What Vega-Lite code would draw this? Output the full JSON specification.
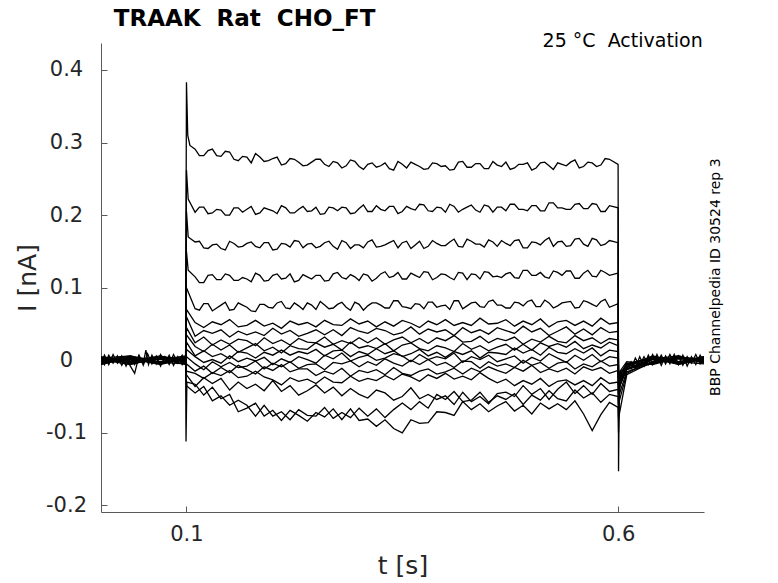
{
  "$schema": "https://vega.github.io/schema/vega-lite/v6.json",
  "description": "TRAAK Rat CHO_FT activation current traces",
  "width": 603,
  "height": 469,
  "autosize": "none",
  "padding": {"left": 101, "top": 43, "right": 74, "bottom": 71},
  "background": "white",
  "config": {"view": {"stroke": null}, "font": "DejaVu Sans"},
  "layer": [
    {
      "data": {"values": [
        {"k":1,"t":0.001,"v":0.002},{"k":1,"t":0.035,"v":-0.004},{"k":1,"t":0.07,"v":0.005},{"k":1,"t":0.099,"v":0.001},
        {"k":1,"t":0.1,"v":0.383},{"k":1,"t":0.1015,"v":0.31},{"k":1,"t":0.104,"v":0.296},
        {"k":1,"t":0.11,"v":0.291},{"k":1,"t":0.12,"v":0.282},{"k":1,"t":0.13,"v":0.291},{"k":1,"t":0.14,"v":0.281},{"k":1,"t":0.15,"v":0.287},{"k":1,"t":0.16,"v":0.275},{"k":1,"t":0.17,"v":0.28},{"k":1,"t":0.18,"v":0.285},{"k":1,"t":0.19,"v":0.274},{"k":1,"t":0.2,"v":0.278},
        {"k":1,"t":0.21,"v":0.269},{"k":1,"t":0.22,"v":0.278},{"k":1,"t":0.23,"v":0.273},{"k":1,"t":0.24,"v":0.269},{"k":1,"t":0.25,"v":0.277},{"k":1,"t":0.26,"v":0.27},{"k":1,"t":0.27,"v":0.274},{"k":1,"t":0.28,"v":0.265},{"k":1,"t":0.29,"v":0.276},{"k":1,"t":0.3,"v":0.267},
        {"k":1,"t":0.31,"v":0.27},{"k":1,"t":0.32,"v":0.266},{"k":1,"t":0.33,"v":0.272},{"k":1,"t":0.34,"v":0.262},{"k":1,"t":0.35,"v":0.27},{"k":1,"t":0.36,"v":0.273},{"k":1,"t":0.37,"v":0.267},{"k":1,"t":0.38,"v":0.264},{"k":1,"t":0.39,"v":0.271},{"k":1,"t":0.4,"v":0.268},
        {"k":1,"t":0.41,"v":0.263},{"k":1,"t":0.42,"v":0.274},{"k":1,"t":0.43,"v":0.266},{"k":1,"t":0.44,"v":0.271},{"k":1,"t":0.45,"v":0.264},{"k":1,"t":0.46,"v":0.269},{"k":1,"t":0.47,"v":0.273},{"k":1,"t":0.48,"v":0.265},{"k":1,"t":0.49,"v":0.27},{"k":1,"t":0.5,"v":0.262},
        {"k":1,"t":0.51,"v":0.272},{"k":1,"t":0.52,"v":0.268},{"k":1,"t":0.53,"v":0.272},{"k":1,"t":0.54,"v":0.268},{"k":1,"t":0.55,"v":0.276},{"k":1,"t":0.56,"v":0.267},{"k":1,"t":0.57,"v":0.272},{"k":1,"t":0.58,"v":0.269},{"k":1,"t":0.59,"v":0.277},
        {"k":1,"t":0.115,"v":0.282},{"k":1,"t":0.125,"v":0.289},{"k":1,"t":0.135,"v":0.282},{"k":1,"t":0.145,"v":0.288},{"k":1,"t":0.155,"v":0.277},{"k":1,"t":0.165,"v":0.281},{"k":1,"t":0.175,"v":0.272},{"k":1,"t":0.185,"v":0.28},{"k":1,"t":0.195,"v":0.275},{"k":1,"t":0.205,"v":0.28},
        {"k":1,"t":0.215,"v":0.271},{"k":1,"t":0.225,"v":0.277},{"k":1,"t":0.235,"v":0.268},{"k":1,"t":0.245,"v":0.273},{"k":1,"t":0.255,"v":0.277},{"k":1,"t":0.265,"v":0.267},{"k":1,"t":0.275,"v":0.272},{"k":1,"t":0.285,"v":0.268},{"k":1,"t":0.295,"v":0.274},{"k":1,"t":0.305,"v":0.263},
        {"k":1,"t":0.315,"v":0.272},{"k":1,"t":0.325,"v":0.268},{"k":1,"t":0.335,"v":0.264},{"k":1,"t":0.345,"v":0.274},{"k":1,"t":0.355,"v":0.265},{"k":1,"t":0.365,"v":0.27},{"k":1,"t":0.375,"v":0.263},{"k":1,"t":0.385,"v":0.272},{"k":1,"t":0.395,"v":0.267},{"k":1,"t":0.405,"v":0.262},
        {"k":1,"t":0.415,"v":0.273},{"k":1,"t":0.425,"v":0.266},{"k":1,"t":0.435,"v":0.271},{"k":1,"t":0.445,"v":0.264},{"k":1,"t":0.455,"v":0.274},{"k":1,"t":0.465,"v":0.267},{"k":1,"t":0.475,"v":0.263},{"k":1,"t":0.485,"v":0.27},{"k":1,"t":0.495,"v":0.272},{"k":1,"t":0.505,"v":0.265},
        {"k":1,"t":0.515,"v":0.273},{"k":1,"t":0.525,"v":0.263},{"k":1,"t":0.535,"v":0.27},{"k":1,"t":0.545,"v":0.273},{"k":1,"t":0.555,"v":0.265},{"k":1,"t":0.565,"v":0.273},{"k":1,"t":0.575,"v":0.267},{"k":1,"t":0.585,"v":0.278},
        {"k":1,"t":0.6,"v":0.27},{"k":1,"t":0.6005,"v":-0.153},{"k":1,"t":0.6015,"v":-0.02},{"k":1,"t":0.61,"v":-0.006},{"k":1,"t":0.64,"v":0.004},{"k":1,"t":0.67,"v":-0.004},{"k":1,"t":0.6995,"v":0.003},

        {"k":2,"t":0.001,"v":-0.003},{"k":2,"t":0.035,"v":0.004},{"k":2,"t":0.07,"v":-0.005},{"k":2,"t":0.099,"v":0.002},
        {"k":2,"t":0.1,"v":0.262},{"k":2,"t":0.102,"v":0.222},
        {"k":2,"t":0.11,"v":0.204},{"k":2,"t":0.12,"v":0.211},{"k":2,"t":0.13,"v":0.203},{"k":2,"t":0.14,"v":0.207},{"k":2,"t":0.15,"v":0.2},{"k":2,"t":0.16,"v":0.21},{"k":2,"t":0.17,"v":0.208},{"k":2,"t":0.18,"v":0.201},{"k":2,"t":0.19,"v":0.21},{"k":2,"t":0.2,"v":0.206},
        {"k":2,"t":0.21,"v":0.213},{"k":2,"t":0.22,"v":0.203},{"k":2,"t":0.23,"v":0.208},{"k":2,"t":0.24,"v":0.205},{"k":2,"t":0.25,"v":0.211},{"k":2,"t":0.26,"v":0.202},{"k":2,"t":0.27,"v":0.21},{"k":2,"t":0.28,"v":0.211},{"k":2,"t":0.29,"v":0.202},{"k":2,"t":0.3,"v":0.209},
        {"k":2,"t":0.31,"v":0.205},{"k":2,"t":0.32,"v":0.213},{"k":2,"t":0.33,"v":0.206},{"k":2,"t":0.34,"v":0.212},{"k":2,"t":0.35,"v":0.205},{"k":2,"t":0.36,"v":0.209},{"k":2,"t":0.37,"v":0.215},{"k":2,"t":0.38,"v":0.206},{"k":2,"t":0.39,"v":0.211},{"k":2,"t":0.4,"v":0.204},
        {"k":2,"t":0.41,"v":0.212},{"k":2,"t":0.42,"v":0.208},{"k":2,"t":0.43,"v":0.214},{"k":2,"t":0.44,"v":0.204},{"k":2,"t":0.45,"v":0.212},{"k":2,"t":0.46,"v":0.211},{"k":2,"t":0.47,"v":0.206},{"k":2,"t":0.48,"v":0.215},{"k":2,"t":0.49,"v":0.208},{"k":2,"t":0.5,"v":0.213},
        {"k":2,"t":0.51,"v":0.206},{"k":2,"t":0.52,"v":0.217},{"k":2,"t":0.53,"v":0.21},{"k":2,"t":0.54,"v":0.208},{"k":2,"t":0.55,"v":0.215},{"k":2,"t":0.56,"v":0.209},{"k":2,"t":0.57,"v":0.216},{"k":2,"t":0.58,"v":0.205},{"k":2,"t":0.59,"v":0.213},
        {"k":2,"t":0.115,"v":0.211},{"k":2,"t":0.125,"v":0.202},{"k":2,"t":0.135,"v":0.208},{"k":2,"t":0.145,"v":0.2},{"k":2,"t":0.155,"v":0.21},{"k":2,"t":0.165,"v":0.204},{"k":2,"t":0.175,"v":0.212},{"k":2,"t":0.185,"v":0.203},{"k":2,"t":0.195,"v":0.208},{"k":2,"t":0.205,"v":0.202},
        {"k":2,"t":0.215,"v":0.21},{"k":2,"t":0.225,"v":0.203},{"k":2,"t":0.235,"v":0.212},{"k":2,"t":0.245,"v":0.206},{"k":2,"t":0.255,"v":0.201},{"k":2,"t":0.265,"v":0.211},{"k":2,"t":0.275,"v":0.206},{"k":2,"t":0.285,"v":0.21},{"k":2,"t":0.295,"v":0.203},{"k":2,"t":0.305,"v":0.214},
        {"k":2,"t":0.315,"v":0.205},{"k":2,"t":0.325,"v":0.208},{"k":2,"t":0.335,"v":0.212},{"k":2,"t":0.345,"v":0.202},{"k":2,"t":0.355,"v":0.212},{"k":2,"t":0.365,"v":0.207},{"k":2,"t":0.375,"v":0.214},{"k":2,"t":0.385,"v":0.205},{"k":2,"t":0.395,"v":0.21},{"k":2,"t":0.405,"v":0.215},
        {"k":2,"t":0.415,"v":0.204},{"k":2,"t":0.425,"v":0.211},{"k":2,"t":0.435,"v":0.207},{"k":2,"t":0.445,"v":0.214},{"k":2,"t":0.455,"v":0.204},{"k":2,"t":0.465,"v":0.211},{"k":2,"t":0.475,"v":0.215},{"k":2,"t":0.485,"v":0.208},{"k":2,"t":0.495,"v":0.206},{"k":2,"t":0.505,"v":0.213},
        {"k":2,"t":0.515,"v":0.206},{"k":2,"t":0.525,"v":0.217},{"k":2,"t":0.535,"v":0.21},{"k":2,"t":0.545,"v":0.208},{"k":2,"t":0.555,"v":0.216},{"k":2,"t":0.565,"v":0.209},{"k":2,"t":0.575,"v":0.215},{"k":2,"t":0.585,"v":0.205},
        {"k":2,"t":0.6,"v":0.21},{"k":2,"t":0.6005,"v":-0.06},{"k":2,"t":0.603,"v":-0.015},{"k":2,"t":0.64,"v":-0.003},{"k":2,"t":0.67,"v":0.005},{"k":2,"t":0.6995,"v":-0.002},

        {"k":3,"t":0.001,"v":0.004},{"k":3,"t":0.035,"v":-0.002},{"k":3,"t":0.07,"v":0.003},{"k":3,"t":0.099,"v":-0.004},
        {"k":3,"t":0.1,"v":0.205},{"k":3,"t":0.102,"v":0.17},
        {"k":3,"t":0.11,"v":0.163},{"k":3,"t":0.12,"v":0.155},{"k":3,"t":0.13,"v":0.159},{"k":3,"t":0.14,"v":0.154},{"k":3,"t":0.15,"v":0.164},{"k":3,"t":0.16,"v":0.156},{"k":3,"t":0.17,"v":0.161},{"k":3,"t":0.18,"v":0.157},{"k":3,"t":0.19,"v":0.162},{"k":3,"t":0.2,"v":0.152},
        {"k":3,"t":0.21,"v":0.161},{"k":3,"t":0.22,"v":0.156},{"k":3,"t":0.23,"v":0.164},{"k":3,"t":0.24,"v":0.16},{"k":3,"t":0.25,"v":0.155},{"k":3,"t":0.26,"v":0.162},{"k":3,"t":0.27,"v":0.157},{"k":3,"t":0.28,"v":0.165},{"k":3,"t":0.29,"v":0.154},{"k":3,"t":0.3,"v":0.159},
        {"k":3,"t":0.31,"v":0.163},{"k":3,"t":0.32,"v":0.156},{"k":3,"t":0.33,"v":0.159},{"k":3,"t":0.34,"v":0.165},{"k":3,"t":0.35,"v":0.162},{"k":3,"t":0.36,"v":0.154},{"k":3,"t":0.37,"v":0.164},{"k":3,"t":0.38,"v":0.157},{"k":3,"t":0.39,"v":0.161},{"k":3,"t":0.4,"v":0.158},
        {"k":3,"t":0.41,"v":0.167},{"k":3,"t":0.42,"v":0.156},{"k":3,"t":0.43,"v":0.164},{"k":3,"t":0.44,"v":0.16},{"k":3,"t":0.45,"v":0.166},{"k":3,"t":0.46,"v":0.157},{"k":3,"t":0.47,"v":0.161},{"k":3,"t":0.48,"v":0.165},{"k":3,"t":0.49,"v":0.155},{"k":3,"t":0.5,"v":0.163},
        {"k":3,"t":0.51,"v":0.159},{"k":3,"t":0.52,"v":0.169},{"k":3,"t":0.53,"v":0.163},{"k":3,"t":0.54,"v":0.157},{"k":3,"t":0.55,"v":0.167},{"k":3,"t":0.56,"v":0.16},{"k":3,"t":0.57,"v":0.168},{"k":3,"t":0.58,"v":0.158},{"k":3,"t":0.59,"v":0.165},
        {"k":3,"t":0.115,"v":0.164},{"k":3,"t":0.125,"v":0.154},{"k":3,"t":0.135,"v":0.16},{"k":3,"t":0.145,"v":0.152},{"k":3,"t":0.155,"v":0.161},{"k":3,"t":0.165,"v":0.157},{"k":3,"t":0.175,"v":0.163},{"k":3,"t":0.185,"v":0.155},{"k":3,"t":0.195,"v":0.162},{"k":3,"t":0.205,"v":0.153},
        {"k":3,"t":0.215,"v":0.16},{"k":3,"t":0.225,"v":0.165},{"k":3,"t":0.235,"v":0.155},{"k":3,"t":0.245,"v":0.161},{"k":3,"t":0.255,"v":0.157},{"k":3,"t":0.265,"v":0.164},{"k":3,"t":0.275,"v":0.153},{"k":3,"t":0.285,"v":0.162},{"k":3,"t":0.295,"v":0.159},{"k":3,"t":0.305,"v":0.155},
        {"k":3,"t":0.315,"v":0.166},{"k":3,"t":0.325,"v":0.157},{"k":3,"t":0.335,"v":0.162},{"k":3,"t":0.345,"v":0.155},{"k":3,"t":0.355,"v":0.164},{"k":3,"t":0.365,"v":0.159},{"k":3,"t":0.375,"v":0.154},{"k":3,"t":0.385,"v":0.165},{"k":3,"t":0.395,"v":0.158},{"k":3,"t":0.405,"v":0.163},
        {"k":3,"t":0.415,"v":0.157},{"k":3,"t":0.425,"v":0.167},{"k":3,"t":0.435,"v":0.16},{"k":3,"t":0.445,"v":0.156},{"k":3,"t":0.455,"v":0.163},{"k":3,"t":0.465,"v":0.165},{"k":3,"t":0.475,"v":0.158},{"k":3,"t":0.485,"v":0.166},{"k":3,"t":0.495,"v":0.155},{"k":3,"t":0.505,"v":0.162},
        {"k":3,"t":0.515,"v":0.165},{"k":3,"t":0.525,"v":0.157},{"k":3,"t":0.535,"v":0.164},{"k":3,"t":0.545,"v":0.158},{"k":3,"t":0.555,"v":0.168},{"k":3,"t":0.565,"v":0.157},{"k":3,"t":0.575,"v":0.166},{"k":3,"t":0.585,"v":0.16},
        {"k":3,"t":0.6,"v":0.162},{"k":3,"t":0.6005,"v":-0.04},{"k":3,"t":0.61,"v":-0.009},{"k":3,"t":0.64,"v":0.005},{"k":3,"t":0.67,"v":-0.003},{"k":3,"t":0.6995,"v":0.004},

        {"k":4,"t":0.001,"v":-0.005},{"k":4,"t":0.035,"v":0.003},{"k":4,"t":0.07,"v":-0.002},{"k":4,"t":0.099,"v":0.005},
        {"k":4,"t":0.1,"v":0.15},{"k":4,"t":0.102,"v":0.124},
        {"k":4,"t":0.11,"v":0.115},{"k":4,"t":0.12,"v":0.107},{"k":4,"t":0.13,"v":0.118},{"k":4,"t":0.14,"v":0.111},{"k":4,"t":0.15,"v":0.117},{"k":4,"t":0.16,"v":0.11},{"k":4,"t":0.17,"v":0.112},{"k":4,"t":0.18,"v":0.12},{"k":4,"t":0.19,"v":0.109},{"k":4,"t":0.2,"v":0.117},
        {"k":4,"t":0.21,"v":0.112},{"k":4,"t":0.22,"v":0.119},{"k":4,"t":0.23,"v":0.11},{"k":4,"t":0.24,"v":0.115},{"k":4,"t":0.25,"v":0.117},{"k":4,"t":0.26,"v":0.109},{"k":4,"t":0.27,"v":0.119},{"k":4,"t":0.28,"v":0.114},{"k":4,"t":0.29,"v":0.118},{"k":4,"t":0.3,"v":0.11},
        {"k":4,"t":0.31,"v":0.117},{"k":4,"t":0.32,"v":0.113},{"k":4,"t":0.33,"v":0.122},{"k":4,"t":0.34,"v":0.116},{"k":4,"t":0.35,"v":0.112},{"k":4,"t":0.36,"v":0.12},{"k":4,"t":0.37,"v":0.114},{"k":4,"t":0.38,"v":0.121},{"k":4,"t":0.39,"v":0.114},{"k":4,"t":0.4,"v":0.118},
        {"k":4,"t":0.41,"v":0.111},{"k":4,"t":0.42,"v":0.12},{"k":4,"t":0.43,"v":0.119},{"k":4,"t":0.44,"v":0.112},{"k":4,"t":0.45,"v":0.121},{"k":4,"t":0.46,"v":0.116},{"k":4,"t":0.47,"v":0.119},{"k":4,"t":0.48,"v":0.114},{"k":4,"t":0.49,"v":0.124},{"k":4,"t":0.5,"v":0.117},
        {"k":4,"t":0.51,"v":0.121},{"k":4,"t":0.52,"v":0.113},{"k":4,"t":0.53,"v":0.121},{"k":4,"t":0.54,"v":0.123},{"k":4,"t":0.55,"v":0.113},{"k":4,"t":0.56,"v":0.12},{"k":4,"t":0.57,"v":0.116},{"k":4,"t":0.58,"v":0.124},{"k":4,"t":0.59,"v":0.117},
        {"k":4,"t":0.115,"v":0.107},{"k":4,"t":0.125,"v":0.117},{"k":4,"t":0.135,"v":0.111},{"k":4,"t":0.145,"v":0.119},{"k":4,"t":0.155,"v":0.11},{"k":4,"t":0.165,"v":0.114},{"k":4,"t":0.175,"v":0.108},{"k":4,"t":0.185,"v":0.117},{"k":4,"t":0.195,"v":0.11},{"k":4,"t":0.205,"v":0.119},
        {"k":4,"t":0.215,"v":0.113},{"k":4,"t":0.225,"v":0.108},{"k":4,"t":0.235,"v":0.118},{"k":4,"t":0.245,"v":0.112},{"k":4,"t":0.255,"v":0.117},{"k":4,"t":0.265,"v":0.11},{"k":4,"t":0.275,"v":0.121},{"k":4,"t":0.285,"v":0.112},{"k":4,"t":0.295,"v":0.115},{"k":4,"t":0.305,"v":0.119},
        {"k":4,"t":0.315,"v":0.109},{"k":4,"t":0.325,"v":0.119},{"k":4,"t":0.335,"v":0.114},{"k":4,"t":0.345,"v":0.121},{"k":4,"t":0.355,"v":0.112},{"k":4,"t":0.365,"v":0.117},{"k":4,"t":0.375,"v":0.122},{"k":4,"t":0.385,"v":0.111},{"k":4,"t":0.395,"v":0.119},{"k":4,"t":0.405,"v":0.114},
        {"k":4,"t":0.415,"v":0.121},{"k":4,"t":0.425,"v":0.111},{"k":4,"t":0.435,"v":0.118},{"k":4,"t":0.445,"v":0.122},{"k":4,"t":0.455,"v":0.115},{"k":4,"t":0.465,"v":0.114},{"k":4,"t":0.475,"v":0.121},{"k":4,"t":0.485,"v":0.113},{"k":4,"t":0.495,"v":0.124},{"k":4,"t":0.505,"v":0.117},
        {"k":4,"t":0.515,"v":0.115},{"k":4,"t":0.525,"v":0.123},{"k":4,"t":0.535,"v":0.117},{"k":4,"t":0.545,"v":0.123},{"k":4,"t":0.555,"v":0.113},{"k":4,"t":0.565,"v":0.124},{"k":4,"t":0.575,"v":0.115},{"k":4,"t":0.585,"v":0.121},
        {"k":4,"t":0.6,"v":0.12},{"k":4,"t":0.6005,"v":-0.03},{"k":4,"t":0.61,"v":-0.012},{"k":4,"t":0.64,"v":0.002},{"k":4,"t":0.67,"v":0.006},{"k":4,"t":0.6995,"v":-0.004},

        {"k":5,"t":0.001,"v":0.001},{"k":5,"t":0.035,"v":-0.006},{"k":5,"t":0.07,"v":0.004},{"k":5,"t":0.099,"v":-0.001},
        {"k":5,"t":0.1,"v":0.1},
        {"k":5,"t":0.11,"v":0.071},{"k":5,"t":0.12,"v":0.078},{"k":5,"t":0.13,"v":0.068},{"k":5,"t":0.14,"v":0.076},{"k":5,"t":0.15,"v":0.069},{"k":5,"t":0.16,"v":0.079},{"k":5,"t":0.17,"v":0.073},{"k":5,"t":0.18,"v":0.067},{"k":5,"t":0.19,"v":0.077},{"k":5,"t":0.2,"v":0.072},
        {"k":5,"t":0.21,"v":0.081},{"k":5,"t":0.22,"v":0.071},{"k":5,"t":0.23,"v":0.075},{"k":5,"t":0.24,"v":0.079},{"k":5,"t":0.25,"v":0.07},{"k":5,"t":0.26,"v":0.076},{"k":5,"t":0.27,"v":0.072},{"k":5,"t":0.28,"v":0.08},{"k":5,"t":0.29,"v":0.069},{"k":5,"t":0.3,"v":0.077},
        {"k":5,"t":0.31,"v":0.075},{"k":5,"t":0.32,"v":0.079},{"k":5,"t":0.33,"v":0.072},{"k":5,"t":0.34,"v":0.082},{"k":5,"t":0.35,"v":0.074},{"k":5,"t":0.36,"v":0.071},{"k":5,"t":0.37,"v":0.077},{"k":5,"t":0.38,"v":0.08},{"k":5,"t":0.39,"v":0.073},{"k":5,"t":0.4,"v":0.076},
        {"k":5,"t":0.41,"v":0.082},{"k":5,"t":0.42,"v":0.071},{"k":5,"t":0.43,"v":0.079},{"k":5,"t":0.44,"v":0.074},{"k":5,"t":0.45,"v":0.081},{"k":5,"t":0.46,"v":0.076},{"k":5,"t":0.47,"v":0.072},{"k":5,"t":0.48,"v":0.08},{"k":5,"t":0.49,"v":0.075},{"k":5,"t":0.5,"v":0.083},
        {"k":5,"t":0.51,"v":0.074},{"k":5,"t":0.52,"v":0.079},{"k":5,"t":0.53,"v":0.075},{"k":5,"t":0.54,"v":0.08},{"k":5,"t":0.55,"v":0.072},{"k":5,"t":0.56,"v":0.082},{"k":5,"t":0.57,"v":0.077},{"k":5,"t":0.58,"v":0.081},{"k":5,"t":0.59,"v":0.073},
        {"k":5,"t":0.115,"v":0.069},{"k":5,"t":0.125,"v":0.078},{"k":5,"t":0.135,"v":0.072},{"k":5,"t":0.145,"v":0.08},{"k":5,"t":0.155,"v":0.07},{"k":5,"t":0.165,"v":0.076},{"k":5,"t":0.175,"v":0.068},{"k":5,"t":0.185,"v":0.077},{"k":5,"t":0.195,"v":0.073},{"k":5,"t":0.205,"v":0.079},
        {"k":5,"t":0.215,"v":0.072},{"k":5,"t":0.225,"v":0.079},{"k":5,"t":0.235,"v":0.07},{"k":5,"t":0.245,"v":0.076},{"k":5,"t":0.255,"v":0.081},{"k":5,"t":0.265,"v":0.071},{"k":5,"t":0.275,"v":0.077},{"k":5,"t":0.285,"v":0.073},{"k":5,"t":0.295,"v":0.08},{"k":5,"t":0.305,"v":0.069},
        {"k":5,"t":0.315,"v":0.079},{"k":5,"t":0.325,"v":0.076},{"k":5,"t":0.335,"v":0.072},{"k":5,"t":0.345,"v":0.082},{"k":5,"t":0.355,"v":0.073},{"k":5,"t":0.365,"v":0.078},{"k":5,"t":0.375,"v":0.071},{"k":5,"t":0.385,"v":0.08},{"k":5,"t":0.395,"v":0.075},{"k":5,"t":0.405,"v":0.07},
        {"k":5,"t":0.415,"v":0.082},{"k":5,"t":0.425,"v":0.075},{"k":5,"t":0.435,"v":0.08},{"k":5,"t":0.445,"v":0.073},{"k":5,"t":0.455,"v":0.083},{"k":5,"t":0.465,"v":0.076},{"k":5,"t":0.475,"v":0.072},{"k":5,"t":0.485,"v":0.079},{"k":5,"t":0.495,"v":0.081},{"k":5,"t":0.505,"v":0.074},
        {"k":5,"t":0.515,"v":0.083},{"k":5,"t":0.525,"v":0.072},{"k":5,"t":0.535,"v":0.079},{"k":5,"t":0.545,"v":0.081},{"k":5,"t":0.555,"v":0.073},{"k":5,"t":0.565,"v":0.08},{"k":5,"t":0.575,"v":0.074},{"k":5,"t":0.585,"v":0.084},
        {"k":5,"t":0.6,"v":0.078},{"k":5,"t":0.6005,"v":-0.025},{"k":5,"t":0.61,"v":-0.004},{"k":5,"t":0.64,"v":-0.005},{"k":5,"t":0.67,"v":0.003},{"k":5,"t":0.6995,"v":0.001},

        {"k":6,"t":0.001,"v":-0.002},{"k":6,"t":0.035,"v":0.005},{"k":6,"t":0.07,"v":-0.004},{"k":6,"t":0.099,"v":0.003},
        {"k":6,"t":0.1,"v":0.07},
        {"k":6,"t":0.11,"v":0.052},{"k":6,"t":0.12,"v":0.045},{"k":6,"t":0.13,"v":0.053},{"k":6,"t":0.14,"v":0.049},{"k":6,"t":0.15,"v":0.056},{"k":6,"t":0.16,"v":0.046},{"k":6,"t":0.17,"v":0.048},{"k":6,"t":0.18,"v":0.055},{"k":6,"t":0.19,"v":0.047},{"k":6,"t":0.2,"v":0.051},
        {"k":6,"t":0.21,"v":0.044},{"k":6,"t":0.22,"v":0.054},{"k":6,"t":0.23,"v":0.049},{"k":6,"t":0.24,"v":0.052},{"k":6,"t":0.25,"v":0.046},{"k":6,"t":0.26,"v":0.055},{"k":6,"t":0.27,"v":0.049},{"k":6,"t":0.28,"v":0.048},{"k":6,"t":0.29,"v":0.057},{"k":6,"t":0.3,"v":0.05},
        {"k":6,"t":0.31,"v":0.054},{"k":6,"t":0.32,"v":0.046},{"k":6,"t":0.33,"v":0.053},{"k":6,"t":0.34,"v":0.047},{"k":6,"t":0.35,"v":0.055},{"k":6,"t":0.36,"v":0.051},{"k":6,"t":0.37,"v":0.045},{"k":6,"t":0.38,"v":0.054},{"k":6,"t":0.39,"v":0.049},{"k":6,"t":0.4,"v":0.056},
        {"k":6,"t":0.41,"v":0.048},{"k":6,"t":0.42,"v":0.052},{"k":6,"t":0.43,"v":0.048},{"k":6,"t":0.44,"v":0.058},{"k":6,"t":0.45,"v":0.05},{"k":6,"t":0.46,"v":0.051},{"k":6,"t":0.47,"v":0.056},{"k":6,"t":0.48,"v":0.047},{"k":6,"t":0.49,"v":0.054},{"k":6,"t":0.5,"v":0.049},
        {"k":6,"t":0.51,"v":0.057},{"k":6,"t":0.52,"v":0.046},{"k":6,"t":0.53,"v":0.053},{"k":6,"t":0.54,"v":0.055},{"k":6,"t":0.55,"v":0.048},{"k":6,"t":0.56,"v":0.054},{"k":6,"t":0.57,"v":0.047},{"k":6,"t":0.58,"v":0.058},{"k":6,"t":0.59,"v":0.05},
        {"k":6,"t":0.6,"v":0.052},{"k":6,"t":0.6005,"v":-0.02},{"k":6,"t":0.61,"v":-0.01},{"k":6,"t":0.64,"v":0.006},{"k":6,"t":0.67,"v":-0.002},{"k":6,"t":0.6995,"v":-0.005},

        {"k":7,"t":0.001,"v":0.005},{"k":7,"t":0.035,"v":-0.001},{"k":7,"t":0.07,"v":0.006},{"k":7,"t":0.099,"v":-0.003},
        {"k":7,"t":0.1,"v":0.06},
        {"k":7,"t":0.11,"v":0.033},{"k":7,"t":0.12,"v":0.041},{"k":7,"t":0.13,"v":0.037},{"k":7,"t":0.14,"v":0.042},{"k":7,"t":0.15,"v":0.032},{"k":7,"t":0.16,"v":0.04},{"k":7,"t":0.17,"v":0.035},{"k":7,"t":0.18,"v":0.039},{"k":7,"t":0.19,"v":0.034},{"k":7,"t":0.2,"v":0.044},
        {"k":7,"t":0.21,"v":0.036},{"k":7,"t":0.22,"v":0.041},{"k":7,"t":0.23,"v":0.033},{"k":7,"t":0.24,"v":0.037},{"k":7,"t":0.25,"v":0.042},{"k":7,"t":0.26,"v":0.035},{"k":7,"t":0.27,"v":0.042},{"k":7,"t":0.28,"v":0.034},{"k":7,"t":0.29,"v":0.045},{"k":7,"t":0.3,"v":0.04},
        {"k":7,"t":0.31,"v":0.037},{"k":7,"t":0.32,"v":0.044},{"k":7,"t":0.33,"v":0.041},{"k":7,"t":0.34,"v":0.035},{"k":7,"t":0.35,"v":0.038},{"k":7,"t":0.36,"v":0.046},{"k":7,"t":0.37,"v":0.036},{"k":7,"t":0.38,"v":0.043},{"k":7,"t":0.39,"v":0.039},{"k":7,"t":0.4,"v":0.042},
        {"k":7,"t":0.41,"v":0.034},{"k":7,"t":0.42,"v":0.045},{"k":7,"t":0.43,"v":0.038},{"k":7,"t":0.44,"v":0.042},{"k":7,"t":0.45,"v":0.036},{"k":7,"t":0.46,"v":0.045},{"k":7,"t":0.47,"v":0.041},{"k":7,"t":0.48,"v":0.037},{"k":7,"t":0.49,"v":0.047},{"k":7,"t":0.5,"v":0.039},
        {"k":7,"t":0.51,"v":0.044},{"k":7,"t":0.52,"v":0.034},{"k":7,"t":0.53,"v":0.04},{"k":7,"t":0.54,"v":0.046},{"k":7,"t":0.55,"v":0.036},{"k":7,"t":0.56,"v":0.043},{"k":7,"t":0.57,"v":0.035},{"k":7,"t":0.58,"v":0.045},{"k":7,"t":0.59,"v":0.038},
        {"k":7,"t":0.6,"v":0.04},{"k":7,"t":0.6005,"v":-0.018},{"k":7,"t":0.61,"v":-0.002},{"k":7,"t":0.64,"v":-0.006},{"k":7,"t":0.67,"v":0.004},{"k":7,"t":0.6995,"v":0.002},

        {"k":8,"t":0.001,"v":-0.004},{"k":8,"t":0.035,"v":0.002},{"k":8,"t":0.07,"v":-0.006},{"k":8,"t":0.099,"v":0.004},
        {"k":8,"t":0.1,"v":0.045},
        {"k":8,"t":0.11,"v":0.024},{"k":8,"t":0.12,"v":0.032},{"k":8,"t":0.13,"v":0.021},{"k":8,"t":0.14,"v":0.028},{"k":8,"t":0.15,"v":0.022},{"k":8,"t":0.16,"v":0.029},{"k":8,"t":0.17,"v":0.027},{"k":8,"t":0.18,"v":0.02},{"k":8,"t":0.19,"v":0.031},{"k":8,"t":0.2,"v":0.023},
        {"k":8,"t":0.21,"v":0.028},{"k":8,"t":0.22,"v":0.021},{"k":8,"t":0.23,"v":0.03},{"k":8,"t":0.24,"v":0.025},{"k":8,"t":0.25,"v":0.024},{"k":8,"t":0.26,"v":0.032},{"k":8,"t":0.27,"v":0.022},{"k":8,"t":0.28,"v":0.027},{"k":8,"t":0.29,"v":0.023},{"k":8,"t":0.3,"v":0.031},
        {"k":8,"t":0.31,"v":0.024},{"k":8,"t":0.32,"v":0.031},{"k":8,"t":0.33,"v":0.022},{"k":8,"t":0.34,"v":0.028},{"k":8,"t":0.35,"v":0.032},{"k":8,"t":0.36,"v":0.024},{"k":8,"t":0.37,"v":0.03},{"k":8,"t":0.38,"v":0.023},{"k":8,"t":0.39,"v":0.031},{"k":8,"t":0.4,"v":0.027},
        {"k":8,"t":0.41,"v":0.034},{"k":8,"t":0.42,"v":0.025},{"k":8,"t":0.43,"v":0.026},{"k":8,"t":0.44,"v":0.033},{"k":8,"t":0.45,"v":0.024},{"k":8,"t":0.46,"v":0.03},{"k":8,"t":0.47,"v":0.027},{"k":8,"t":0.48,"v":0.032},{"k":8,"t":0.49,"v":0.022},{"k":8,"t":0.5,"v":0.029},
        {"k":8,"t":0.51,"v":0.025},{"k":8,"t":0.52,"v":0.033},{"k":8,"t":0.53,"v":0.026},{"k":8,"t":0.54,"v":0.024},{"k":8,"t":0.55,"v":0.034},{"k":8,"t":0.56,"v":0.027},{"k":8,"t":0.57,"v":0.031},{"k":8,"t":0.58,"v":0.023},{"k":8,"t":0.59,"v":0.03},
        {"k":8,"t":0.6,"v":0.028},{"k":8,"t":0.6005,"v":-0.022},{"k":8,"t":0.61,"v":-0.007},{"k":8,"t":0.64,"v":0.003},{"k":8,"t":0.67,"v":-0.005},{"k":8,"t":0.6995,"v":0.005},

        {"k":9,"t":0.001,"v":0.004},{"k":9,"t":0.005,"v":-0.006},{"k":9,"t":0.01,"v":0.007},{"k":9,"t":0.015,"v":-0.004},{"k":9,"t":0.02,"v":0.006},{"k":9,"t":0.025,"v":-0.007},{"k":9,"t":0.03,"v":0.003},{"k":9,"t":0.035,"v":-0.008},{"k":9,"t":0.04,"v":-0.018},{"k":9,"t":0.045,"v":0.006},
        {"k":9,"t":0.05,"v":-0.004},{"k":9,"t":0.053,"v":0.014},{"k":9,"t":0.056,"v":-0.006},{"k":9,"t":0.06,"v":0.007},{"k":9,"t":0.065,"v":-0.005},{"k":9,"t":0.07,"v":0.008},{"k":9,"t":0.075,"v":-0.004},{"k":9,"t":0.08,"v":0.007},{"k":9,"t":0.085,"v":-0.007},{"k":9,"t":0.09,"v":0.005},{"k":9,"t":0.095,"v":-0.006},{"k":9,"t":0.099,"v":0.004},
        {"k":9,"t":0.1,"v":0.035},
        {"k":9,"t":0.11,"v":0.019},{"k":9,"t":0.12,"v":0.012},{"k":9,"t":0.13,"v":0.022},{"k":9,"t":0.14,"v":0.014},{"k":9,"t":0.15,"v":0.021},{"k":9,"t":0.16,"v":0.011},{"k":9,"t":0.17,"v":0.017},{"k":9,"t":0.18,"v":0.023},{"k":9,"t":0.19,"v":0.013},{"k":9,"t":0.2,"v":0.018},
        {"k":9,"t":0.21,"v":0.01},{"k":9,"t":0.22,"v":0.02},{"k":9,"t":0.23,"v":0.016},{"k":9,"t":0.24,"v":0.015},{"k":9,"t":0.25,"v":0.024},{"k":9,"t":0.26,"v":0.018},{"k":9,"t":0.27,"v":0.022},{"k":9,"t":0.28,"v":0.014},{"k":9,"t":0.29,"v":0.025},{"k":9,"t":0.3,"v":0.017},
        {"k":9,"t":0.31,"v":0.02},{"k":9,"t":0.32,"v":0.016},{"k":9,"t":0.33,"v":0.023},{"k":9,"t":0.34,"v":0.013},{"k":9,"t":0.35,"v":0.021},{"k":9,"t":0.36,"v":0.024},{"k":9,"t":0.37,"v":0.016},{"k":9,"t":0.38,"v":0.013},{"k":9,"t":0.39,"v":0.02},{"k":9,"t":0.4,"v":0.017},
        {"k":9,"t":0.41,"v":0.012},{"k":9,"t":0.42,"v":0.023},{"k":9,"t":0.43,"v":0.015},{"k":9,"t":0.44,"v":0.02},{"k":9,"t":0.45,"v":0.013},{"k":9,"t":0.46,"v":0.018},{"k":9,"t":0.47,"v":0.022},{"k":9,"t":0.48,"v":0.014},{"k":9,"t":0.49,"v":0.022},{"k":9,"t":0.5,"v":0.014},
        {"k":9,"t":0.51,"v":0.024},{"k":9,"t":0.52,"v":0.019},{"k":9,"t":0.53,"v":0.023},{"k":9,"t":0.54,"v":0.018},{"k":9,"t":0.55,"v":0.026},{"k":9,"t":0.56,"v":0.016},{"k":9,"t":0.57,"v":0.021},{"k":9,"t":0.58,"v":0.017},{"k":9,"t":0.59,"v":0.025},
        {"k":9,"t":0.6,"v":0.02},{"k":9,"t":0.6005,"v":-0.03},{"k":9,"t":0.605,"v":-0.015},{"k":9,"t":0.61,"v":-0.004},{"k":9,"t":0.615,"v":-0.012},{"k":9,"t":0.62,"v":0.003},{"k":9,"t":0.625,"v":-0.008},{"k":9,"t":0.63,"v":0.005},{"k":9,"t":0.635,"v":-0.006},{"k":9,"t":0.64,"v":0.008},{"k":9,"t":0.645,"v":-0.004},
        {"k":9,"t":0.65,"v":0.007},{"k":9,"t":0.655,"v":-0.005},{"k":9,"t":0.66,"v":0.008},{"k":9,"t":0.665,"v":-0.003},{"k":9,"t":0.67,"v":0.006},{"k":9,"t":0.675,"v":-0.007},{"k":9,"t":0.68,"v":0.005},{"k":9,"t":0.685,"v":-0.004},{"k":9,"t":0.69,"v":0.008},{"k":9,"t":0.695,"v":-0.005},{"k":9,"t":0.6995,"v":0.003},

        {"k":10,"t":0.001,"v":0.003},{"k":10,"t":0.035,"v":0.006},{"k":10,"t":0.07,"v":-0.003},{"k":10,"t":0.099,"v":-0.005},
        {"k":10,"t":0.1,"v":0.025},
        {"k":10,"t":0.11,"v":0.006},{"k":10,"t":0.12,"v":0.013},{"k":10,"t":0.13,"v":0.005},{"k":10,"t":0.14,"v":0.009},{"k":10,"t":0.15,"v":0.002},{"k":10,"t":0.16,"v":0.012},{"k":10,"t":0.17,"v":0.01},{"k":10,"t":0.18,"v":0.003},{"k":10,"t":0.19,"v":0.011},{"k":10,"t":0.2,"v":0.007},
        {"k":10,"t":0.21,"v":0.014},{"k":10,"t":0.22,"v":0.007},{"k":10,"t":0.23,"v":0.012},{"k":10,"t":0.24,"v":0.009},{"k":10,"t":0.25,"v":0.015},{"k":10,"t":0.26,"v":0.006},{"k":10,"t":0.27,"v":0.013},{"k":10,"t":0.28,"v":0.014},{"k":10,"t":0.29,"v":0.005},{"k":10,"t":0.3,"v":0.012},
        {"k":10,"t":0.31,"v":0.008},{"k":10,"t":0.32,"v":0.016},{"k":10,"t":0.33,"v":0.009},{"k":10,"t":0.34,"v":0.013},{"k":10,"t":0.35,"v":0.005},{"k":10,"t":0.36,"v":0.009},{"k":10,"t":0.37,"v":0.015},{"k":10,"t":0.38,"v":0.006},{"k":10,"t":0.39,"v":0.011},{"k":10,"t":0.4,"v":0.004},
        {"k":10,"t":0.41,"v":0.012},{"k":10,"t":0.42,"v":0.008},{"k":10,"t":0.43,"v":0.013},{"k":10,"t":0.44,"v":0.003},{"k":10,"t":0.45,"v":0.011},{"k":10,"t":0.46,"v":0.01},{"k":10,"t":0.47,"v":0.008},{"k":10,"t":0.48,"v":0.017},{"k":10,"t":0.49,"v":0.01},{"k":10,"t":0.5,"v":0.015},
        {"k":10,"t":0.51,"v":0.007},{"k":10,"t":0.52,"v":0.018},{"k":10,"t":0.53,"v":0.011},{"k":10,"t":0.54,"v":0.009},{"k":10,"t":0.55,"v":0.016},{"k":10,"t":0.56,"v":0.01},{"k":10,"t":0.57,"v":0.017},{"k":10,"t":0.58,"v":0.006},{"k":10,"t":0.59,"v":0.014},
        {"k":10,"t":0.6,"v":0.012},{"k":10,"t":0.6005,"v":-0.035},{"k":10,"t":0.61,"v":-0.005},{"k":10,"t":0.64,"v":0.004},{"k":10,"t":0.67,"v":-0.006},{"k":10,"t":0.6995,"v":0.003},

        {"k":11,"t":0.001,"v":-0.005},{"k":11,"t":0.005,"v":0.007},{"k":11,"t":0.01,"v":-0.006},{"k":11,"t":0.015,"v":0.008},{"k":11,"t":0.02,"v":-0.004},{"k":11,"t":0.025,"v":0.006},{"k":11,"t":0.03,"v":-0.008},{"k":11,"t":0.035,"v":0.005},{"k":11,"t":0.04,"v":-0.006},{"k":11,"t":0.045,"v":0.007},
        {"k":11,"t":0.05,"v":-0.007},{"k":11,"t":0.055,"v":0.009},{"k":11,"t":0.06,"v":-0.005},{"k":11,"t":0.065,"v":0.006},{"k":11,"t":0.07,"v":-0.008},{"k":11,"t":0.075,"v":0.005},{"k":11,"t":0.08,"v":-0.006},{"k":11,"t":0.085,"v":0.008},{"k":11,"t":0.09,"v":-0.004},{"k":11,"t":0.095,"v":0.007},{"k":11,"t":0.099,"v":-0.004},
        {"k":11,"t":0.1,"v":0.015},
        {"k":11,"t":0.11,"v":0.005},{"k":11,"t":0.12,"v":-0.003},{"k":11,"t":0.13,"v":0.001},{"k":11,"t":0.14,"v":-0.004},{"k":11,"t":0.15,"v":0.006},{"k":11,"t":0.16,"v":-0.002},{"k":11,"t":0.17,"v":0.003},{"k":11,"t":0.18,"v":-0.001},{"k":11,"t":0.19,"v":0.004},{"k":11,"t":0.2,"v":-0.006},
        {"k":11,"t":0.21,"v":0.002},{"k":11,"t":0.22,"v":-0.003},{"k":11,"t":0.23,"v":0.005},{"k":11,"t":0.24,"v":0.001},{"k":11,"t":0.25,"v":-0.004},{"k":11,"t":0.26,"v":0.007},{"k":11,"t":0.27,"v":0.002},{"k":11,"t":0.28,"v":0.01},{"k":11,"t":0.29,"v":-0.001},{"k":11,"t":0.3,"v":0.004},
        {"k":11,"t":0.31,"v":0.007},{"k":11,"t":0.32,"v":0.0},{"k":11,"t":0.33,"v":0.003},{"k":11,"t":0.34,"v":0.009},{"k":11,"t":0.35,"v":0.006},{"k":11,"t":0.36,"v":-0.002},{"k":11,"t":0.37,"v":0.008},{"k":11,"t":0.38,"v":0.001},{"k":11,"t":0.39,"v":0.005},{"k":11,"t":0.4,"v":0.002},
        {"k":11,"t":0.41,"v":0.01},{"k":11,"t":0.42,"v":-0.003},{"k":11,"t":0.43,"v":0.005},{"k":11,"t":0.44,"v":0.001},{"k":11,"t":0.45,"v":0.007},{"k":11,"t":0.46,"v":-0.002},{"k":11,"t":0.47,"v":0.002},{"k":11,"t":0.48,"v":0.006},{"k":11,"t":0.49,"v":-0.004},{"k":11,"t":0.5,"v":0.004},
        {"k":11,"t":0.51,"v":-0.001},{"k":11,"t":0.52,"v":0.009},{"k":11,"t":0.53,"v":0.003},{"k":11,"t":0.54,"v":-0.003},{"k":11,"t":0.55,"v":0.007},{"k":11,"t":0.56,"v":0.0},{"k":11,"t":0.57,"v":0.008},{"k":11,"t":0.58,"v":-0.002},{"k":11,"t":0.59,"v":0.005},
        {"k":11,"t":0.6,"v":0.003},{"k":11,"t":0.6005,"v":-0.045},{"k":11,"t":0.605,"v":-0.02},{"k":11,"t":0.61,"v":-0.01},{"k":11,"t":0.615,"v":-0.002},{"k":11,"t":0.62,"v":-0.011},{"k":11,"t":0.625,"v":0.005},{"k":11,"t":0.63,"v":-0.008},{"k":11,"t":0.635,"v":0.007},{"k":11,"t":0.64,"v":-0.006},{"k":11,"t":0.645,"v":0.008},
        {"k":11,"t":0.65,"v":-0.007},{"k":11,"t":0.655,"v":0.006},{"k":11,"t":0.66,"v":-0.005},{"k":11,"t":0.665,"v":0.008},{"k":11,"t":0.67,"v":-0.006},{"k":11,"t":0.675,"v":0.007},{"k":11,"t":0.68,"v":-0.008},{"k":11,"t":0.685,"v":0.005},{"k":11,"t":0.69,"v":-0.006},{"k":11,"t":0.695,"v":0.007},{"k":11,"t":0.6995,"v":-0.003},

        {"k":12,"t":0.001,"v":-0.006},{"k":12,"t":0.035,"v":0.004},{"k":12,"t":0.07,"v":0.001},{"k":12,"t":0.099,"v":0.006},
        {"k":12,"t":0.1,"v":0.005},
        {"k":12,"t":0.11,"v":-0.005},{"k":12,"t":0.12,"v":-0.013},{"k":12,"t":0.13,"v":-0.002},{"k":12,"t":0.14,"v":-0.009},{"k":12,"t":0.15,"v":-0.003},{"k":12,"t":0.16,"v":-0.01},{"k":12,"t":0.17,"v":-0.008},{"k":12,"t":0.18,"v":-0.001},{"k":12,"t":0.19,"v":-0.012},{"k":12,"t":0.2,"v":-0.004},
        {"k":12,"t":0.21,"v":-0.009},{"k":12,"t":0.22,"v":-0.002},{"k":12,"t":0.23,"v":-0.011},{"k":12,"t":0.24,"v":-0.006},{"k":12,"t":0.25,"v":-0.005},{"k":12,"t":0.26,"v":-0.013},{"k":12,"t":0.27,"v":-0.003},{"k":12,"t":0.28,"v":-0.005},{"k":12,"t":0.29,"v":-0.001},{"k":12,"t":0.3,"v":-0.009},
        {"k":12,"t":0.31,"v":-0.002},{"k":12,"t":0.32,"v":-0.007},{"k":12,"t":0.33,"v":0.002},{"k":12,"t":0.34,"v":-0.004},{"k":12,"t":0.35,"v":-0.008},{"k":12,"t":0.36,"v":0.0},{"k":12,"t":0.37,"v":-0.006},{"k":12,"t":0.38,"v":0.001},{"k":12,"t":0.39,"v":-0.007},{"k":12,"t":0.4,"v":-0.003},
        {"k":12,"t":0.41,"v":-0.01},{"k":12,"t":0.42,"v":-0.001},{"k":12,"t":0.43,"v":-0.002},{"k":12,"t":0.44,"v":-0.011},{"k":12,"t":0.45,"v":-0.002},{"k":12,"t":0.46,"v":-0.008},{"k":12,"t":0.47,"v":-0.005},{"k":12,"t":0.48,"v":-0.01},{"k":12,"t":0.49,"v":0.0},{"k":12,"t":0.5,"v":-0.007},
        {"k":12,"t":0.51,"v":-0.003},{"k":12,"t":0.52,"v":-0.011},{"k":12,"t":0.53,"v":-0.004},{"k":12,"t":0.54,"v":-0.002},{"k":12,"t":0.55,"v":-0.012},{"k":12,"t":0.56,"v":-0.005},{"k":12,"t":0.57,"v":-0.009},{"k":12,"t":0.58,"v":-0.001},{"k":12,"t":0.59,"v":-0.008},
        {"k":12,"t":0.6,"v":-0.006},{"k":12,"t":0.6005,"v":-0.028},{"k":12,"t":0.61,"v":-0.011},{"k":12,"t":0.64,"v":-0.003},{"k":12,"t":0.67,"v":0.006},{"k":12,"t":0.6995,"v":-0.003},

        {"k":13,"t":0.001,"v":0.004},{"k":13,"t":0.035,"v":-0.005},{"k":13,"t":0.07,"v":0.002},{"k":13,"t":0.099,"v":-0.006},
        {"k":13,"t":0.1,"v":-0.005},
        {"k":13,"t":0.11,"v":-0.015},{"k":13,"t":0.12,"v":-0.008},{"k":13,"t":0.13,"v":-0.018},{"k":13,"t":0.14,"v":-0.01},{"k":13,"t":0.15,"v":-0.017},{"k":13,"t":0.16,"v":-0.007},{"k":13,"t":0.17,"v":-0.013},{"k":13,"t":0.18,"v":-0.019},{"k":13,"t":0.19,"v":-0.009},{"k":13,"t":0.2,"v":-0.014},
        {"k":13,"t":0.21,"v":-0.006},{"k":13,"t":0.22,"v":-0.016},{"k":13,"t":0.23,"v":-0.012},{"k":13,"t":0.24,"v":-0.012},{"k":13,"t":0.25,"v":-0.021},{"k":13,"t":0.26,"v":-0.015},{"k":13,"t":0.27,"v":-0.019},{"k":13,"t":0.28,"v":-0.011},{"k":13,"t":0.29,"v":-0.022},{"k":13,"t":0.3,"v":-0.014},
        {"k":13,"t":0.31,"v":-0.017},{"k":13,"t":0.32,"v":-0.013},{"k":13,"t":0.33,"v":-0.02},{"k":13,"t":0.34,"v":-0.01},{"k":13,"t":0.35,"v":-0.018},{"k":13,"t":0.36,"v":-0.021},{"k":13,"t":0.37,"v":-0.015},{"k":13,"t":0.38,"v":-0.012},{"k":13,"t":0.39,"v":-0.019},{"k":13,"t":0.4,"v":-0.016},
        {"k":13,"t":0.41,"v":-0.011},{"k":13,"t":0.42,"v":-0.019},{"k":13,"t":0.43,"v":-0.011},{"k":13,"t":0.44,"v":-0.016},{"k":13,"t":0.45,"v":-0.009},{"k":13,"t":0.46,"v":-0.014},{"k":13,"t":0.47,"v":-0.018},{"k":13,"t":0.48,"v":-0.01},{"k":13,"t":0.49,"v":-0.015},{"k":13,"t":0.5,"v":-0.007},
        {"k":13,"t":0.51,"v":-0.017},{"k":13,"t":0.52,"v":-0.012},{"k":13,"t":0.53,"v":-0.016},{"k":13,"t":0.54,"v":-0.011},{"k":13,"t":0.55,"v":-0.019},{"k":13,"t":0.56,"v":-0.009},{"k":13,"t":0.57,"v":-0.014},{"k":13,"t":0.58,"v":-0.01},{"k":13,"t":0.59,"v":-0.018},
        {"k":13,"t":0.6,"v":-0.014},{"k":13,"t":0.6005,"v":-0.04},{"k":13,"t":0.61,"v":-0.013},{"k":13,"t":0.64,"v":0.001},{"k":13,"t":0.67,"v":-0.004},{"k":13,"t":0.6995,"v":0.004},

        {"k":14,"t":0.001,"v":-0.001},{"k":14,"t":0.035,"v":0.006},{"k":14,"t":0.07,"v":-0.005},{"k":14,"t":0.099,"v":0.002},
        {"k":14,"t":0.1,"v":-0.015},
        {"k":14,"t":0.11,"v":-0.018},{"k":14,"t":0.12,"v":-0.025},{"k":14,"t":0.13,"v":-0.017},{"k":14,"t":0.14,"v":-0.021},{"k":14,"t":0.15,"v":-0.014},{"k":14,"t":0.16,"v":-0.024},{"k":14,"t":0.17,"v":-0.022},{"k":14,"t":0.18,"v":-0.015},{"k":14,"t":0.19,"v":-0.023},{"k":14,"t":0.2,"v":-0.027},
        {"k":14,"t":0.21,"v":-0.034},{"k":14,"t":0.22,"v":-0.024},{"k":14,"t":0.23,"v":-0.029},{"k":14,"t":0.24,"v":-0.026},{"k":14,"t":0.25,"v":-0.032},{"k":14,"t":0.26,"v":-0.023},{"k":14,"t":0.27,"v":-0.03},{"k":14,"t":0.28,"v":-0.031},{"k":14,"t":0.29,"v":-0.022},{"k":14,"t":0.3,"v":-0.029},
        {"k":14,"t":0.31,"v":-0.025},{"k":14,"t":0.32,"v":-0.028},{"k":14,"t":0.33,"v":-0.021},{"k":14,"t":0.34,"v":-0.027},{"k":14,"t":0.35,"v":-0.019},{"k":14,"t":0.36,"v":-0.023},{"k":14,"t":0.37,"v":-0.029},{"k":14,"t":0.38,"v":-0.02},{"k":14,"t":0.39,"v":-0.025},{"k":14,"t":0.4,"v":-0.018},
        {"k":14,"t":0.41,"v":-0.026},{"k":14,"t":0.42,"v":-0.022},{"k":14,"t":0.43,"v":-0.027},{"k":14,"t":0.44,"v":-0.017},{"k":14,"t":0.45,"v":-0.025},{"k":14,"t":0.46,"v":-0.031},{"k":14,"t":0.47,"v":-0.026},{"k":14,"t":0.48,"v":-0.035},{"k":14,"t":0.49,"v":-0.028},{"k":14,"t":0.5,"v":-0.033},
        {"k":14,"t":0.51,"v":-0.025},{"k":14,"t":0.52,"v":-0.036},{"k":14,"t":0.53,"v":-0.029},{"k":14,"t":0.54,"v":-0.027},{"k":14,"t":0.55,"v":-0.034},{"k":14,"t":0.56,"v":-0.028},{"k":14,"t":0.57,"v":-0.035},{"k":14,"t":0.58,"v":-0.024},{"k":14,"t":0.59,"v":-0.032},
        {"k":14,"t":0.6,"v":-0.03},{"k":14,"t":0.6005,"v":-0.05},{"k":14,"t":0.61,"v":-0.016},{"k":14,"t":0.64,"v":-0.004},{"k":14,"t":0.67,"v":0.002},{"k":14,"t":0.6995,"v":-0.001},

        {"k":15,"t":0.001,"v":0.002},{"k":15,"t":0.035,"v":-0.003},{"k":15,"t":0.07,"v":0.005},{"k":15,"t":0.099,"v":0.0},
        {"k":15,"t":0.1,"v":-0.02},
        {"k":15,"t":0.11,"v":-0.036},{"k":15,"t":0.12,"v":-0.024},{"k":15,"t":0.13,"v":-0.032},{"k":15,"t":0.14,"v":-0.025},{"k":15,"t":0.15,"v":-0.041},{"k":15,"t":0.16,"v":-0.03},{"k":15,"t":0.17,"v":-0.039},{"k":15,"t":0.18,"v":-0.033},{"k":15,"t":0.19,"v":-0.042},{"k":15,"t":0.2,"v":-0.028},
        {"k":15,"t":0.21,"v":-0.043},{"k":15,"t":0.22,"v":-0.035},{"k":15,"t":0.23,"v":-0.048},{"k":15,"t":0.24,"v":-0.042},{"k":15,"t":0.25,"v":-0.034},{"k":15,"t":0.26,"v":-0.045},{"k":15,"t":0.27,"v":-0.037},{"k":15,"t":0.28,"v":-0.049},{"k":15,"t":0.29,"v":-0.039},{"k":15,"t":0.3,"v":-0.047},
        {"k":15,"t":0.31,"v":-0.052},{"k":15,"t":0.32,"v":-0.041},{"k":15,"t":0.33,"v":-0.045},{"k":15,"t":0.34,"v":-0.055},{"k":15,"t":0.35,"v":-0.05},{"k":15,"t":0.36,"v":-0.038},{"k":15,"t":0.37,"v":-0.053},{"k":15,"t":0.38,"v":-0.047},{"k":15,"t":0.39,"v":-0.054},{"k":15,"t":0.4,"v":-0.049},
        {"k":15,"t":0.41,"v":-0.061},{"k":15,"t":0.42,"v":-0.044},{"k":15,"t":0.43,"v":-0.057},{"k":15,"t":0.44,"v":-0.05},{"k":15,"t":0.45,"v":-0.06},{"k":15,"t":0.46,"v":-0.046},{"k":15,"t":0.47,"v":-0.044},{"k":15,"t":0.48,"v":-0.05},{"k":15,"t":0.49,"v":-0.035},{"k":15,"t":0.5,"v":-0.047},
        {"k":15,"t":0.51,"v":-0.039},{"k":15,"t":0.52,"v":-0.054},{"k":15,"t":0.53,"v":-0.04},{"k":15,"t":0.54,"v":-0.03},{"k":15,"t":0.55,"v":-0.046},{"k":15,"t":0.56,"v":-0.035},{"k":15,"t":0.57,"v":-0.047},{"k":15,"t":0.58,"v":-0.032},{"k":15,"t":0.59,"v":-0.043},
        {"k":15,"t":0.6,"v":-0.04},{"k":15,"t":0.6005,"v":-0.06},{"k":15,"t":0.61,"v":-0.018},{"k":15,"t":0.64,"v":0.002},{"k":15,"t":0.67,"v":-0.005},{"k":15,"t":0.6995,"v":0.001},

        {"k":16,"t":0.001,"v":-0.003},{"k":16,"t":0.035,"v":0.001},{"k":16,"t":0.07,"v":-0.004},{"k":16,"t":0.099,"v":0.004},
        {"k":16,"t":0.1,"v":-0.035},
        {"k":16,"t":0.11,"v":-0.045},{"k":16,"t":0.12,"v":-0.036},{"k":16,"t":0.13,"v":-0.056},{"k":16,"t":0.14,"v":-0.049},{"k":16,"t":0.15,"v":-0.062},{"k":16,"t":0.16,"v":-0.055},{"k":16,"t":0.17,"v":-0.062},{"k":16,"t":0.18,"v":-0.077},{"k":16,"t":0.19,"v":-0.062},{"k":16,"t":0.2,"v":-0.077},
        {"k":16,"t":0.21,"v":-0.071},{"k":16,"t":0.22,"v":-0.082},{"k":16,"t":0.23,"v":-0.068},{"k":16,"t":0.24,"v":-0.076},{"k":16,"t":0.25,"v":-0.077},{"k":16,"t":0.26,"v":-0.065},{"k":16,"t":0.27,"v":-0.08},{"k":16,"t":0.28,"v":-0.072},{"k":16,"t":0.29,"v":-0.079},{"k":16,"t":0.3,"v":-0.066},
        {"k":16,"t":0.31,"v":-0.077},{"k":16,"t":0.32,"v":-0.067},{"k":16,"t":0.33,"v":-0.079},{"k":16,"t":0.34,"v":-0.068},{"k":16,"t":0.35,"v":-0.059},{"k":16,"t":0.36,"v":-0.068},{"k":16,"t":0.37,"v":-0.057},{"k":16,"t":0.38,"v":-0.066},{"k":16,"t":0.39,"v":-0.047},{"k":16,"t":0.4,"v":-0.054},
        {"k":16,"t":0.41,"v":-0.043},{"k":16,"t":0.42,"v":-0.057},{"k":16,"t":0.43,"v":-0.055},{"k":16,"t":0.44,"v":-0.044},{"k":16,"t":0.45,"v":-0.058},{"k":16,"t":0.46,"v":-0.049},{"k":16,"t":0.47,"v":-0.054},{"k":16,"t":0.48,"v":-0.046},{"k":16,"t":0.49,"v":-0.061},{"k":16,"t":0.5,"v":-0.048},
        {"k":16,"t":0.51,"v":-0.055},{"k":16,"t":0.52,"v":-0.042},{"k":16,"t":0.53,"v":-0.053},{"k":16,"t":0.54,"v":-0.056},{"k":16,"t":0.55,"v":-0.041},{"k":16,"t":0.56,"v":-0.052},{"k":16,"t":0.57,"v":-0.045},{"k":16,"t":0.58,"v":-0.058},{"k":16,"t":0.59,"v":-0.047},
        {"k":16,"t":0.6,"v":-0.05},{"k":16,"t":0.6005,"v":-0.08},{"k":16,"t":0.61,"v":-0.02},{"k":16,"t":0.64,"v":-0.002},{"k":16,"t":0.67,"v":0.004},{"k":16,"t":0.6995,"v":-0.003},

        {"k":17,"t":0.001,"v":0.001},{"k":17,"t":0.035,"v":0.004},{"k":17,"t":0.07,"v":-0.003},{"k":17,"t":0.099,"v":0.002},
        {"k":17,"t":0.0995,"v":-0.112},{"k":17,"t":0.1005,"v":-0.03},
        {"k":17,"t":0.11,"v":-0.033},{"k":17,"t":0.12,"v":-0.048},{"k":17,"t":0.13,"v":-0.037},{"k":17,"t":0.14,"v":-0.053},{"k":17,"t":0.15,"v":-0.047},{"k":17,"t":0.16,"v":-0.071},{"k":17,"t":0.17,"v":-0.066},{"k":17,"t":0.18,"v":-0.059},{"k":17,"t":0.19,"v":-0.077},{"k":17,"t":0.2,"v":-0.069},
        {"k":17,"t":0.21,"v":-0.083},{"k":17,"t":0.22,"v":-0.069},{"k":17,"t":0.23,"v":-0.076},{"k":17,"t":0.24,"v":-0.084},{"k":17,"t":0.25,"v":-0.072},{"k":17,"t":0.26,"v":-0.078},{"k":17,"t":0.27,"v":-0.067},{"k":17,"t":0.28,"v":-0.082},{"k":17,"t":0.29,"v":-0.067},{"k":17,"t":0.3,"v":-0.083},
        {"k":17,"t":0.31,"v":-0.081},{"k":17,"t":0.32,"v":-0.091},{"k":17,"t":0.33,"v":-0.082},{"k":17,"t":0.34,"v":-0.094},{"k":17,"t":0.35,"v":-0.1},{"k":17,"t":0.36,"v":-0.082},{"k":17,"t":0.37,"v":-0.087},{"k":17,"t":0.38,"v":-0.086},{"k":17,"t":0.39,"v":-0.071},{"k":17,"t":0.4,"v":-0.072},
        {"k":17,"t":0.41,"v":-0.076},{"k":17,"t":0.42,"v":-0.057},{"k":17,"t":0.43,"v":-0.068},{"k":17,"t":0.44,"v":-0.06},{"k":17,"t":0.45,"v":-0.071},{"k":17,"t":0.46,"v":-0.063},{"k":17,"t":0.47,"v":-0.057},{"k":17,"t":0.48,"v":-0.07},{"k":17,"t":0.49,"v":-0.062},{"k":17,"t":0.5,"v":-0.074},
        {"k":17,"t":0.51,"v":-0.059},{"k":17,"t":0.52,"v":-0.067},{"k":17,"t":0.53,"v":-0.06},{"k":17,"t":0.54,"v":-0.068},{"k":17,"t":0.55,"v":-0.056},{"k":17,"t":0.56,"v":-0.074},{"k":17,"t":0.57,"v":-0.097},{"k":17,"t":0.58,"v":-0.075},{"k":17,"t":0.59,"v":-0.058},
        {"k":17,"t":0.6,"v":-0.065},{"k":17,"t":0.6005,"v":-0.1},{"k":17,"t":0.602,"v":-0.03},{"k":17,"t":0.61,"v":-0.012},{"k":17,"t":0.64,"v":0.003},{"k":17,"t":0.67,"v":-0.002},{"k":17,"t":0.6995,"v":0.005}
      ]},
      "mark": {"type": "line", "color": "black", "strokeWidth": 1.3, "clip": true},
      "encoding": {
        "x": {
          "field": "t", "type": "quantitative", "title": "t [s]",
          "scale": {"domain": [0.001, 0.6995], "nice": false, "zero": false},
          "axis": {"values": [0.1, 0.6], "format": "~g", "grid": false, "domainColor": "#595959", "tickColor": "#595959", "tickSize": -6, "labelFontSize": 21, "labelColor": "#262626", "labelPadding": 17, "labelFlush": false, "labelOverlap": false, "titleFontSize": 25, "titleFontWeight": "normal", "titleColor": "#262626", "titlePadding": 9}
        },
        "y": {
          "field": "v", "type": "quantitative", "title": "I [nA]",
          "scale": {"domain": [-0.2091, 0.4372], "nice": false, "zero": false},
          "axis": {"values": [-0.2, -0.1, 0, 0.1, 0.2, 0.3, 0.4], "labelExpr": "replace(format(datum.value, '~g'), '\u2212', '-')", "grid": false, "domainColor": "#595959", "tickColor": "#595959", "tickSize": -6, "labelFontSize": 21, "labelColor": "#262626", "labelAlign": "center", "labelBaseline": "middle", "labelPadding": 41, "labelFlush": false, "labelOverlap": false, "titleFontSize": 25, "titleFontWeight": "normal", "titleColor": "#262626", "titlePadding": 5}
        },
        "detail": {"field": "k", "type": "nominal"}
      }
    },
    {
      "data": {"values": [{"label": "TRAAK\u00a0 Rat\u00a0 CHO_FT"}]},
      "mark": {"type": "text", "align": "left", "baseline": "alphabetic", "fontSize": 23, "fontWeight": "bold", "color": "black", "font": "DejaVu Sans"},
      "encoding": {"x": {"datum": 0.0158}, "y": {"datum": 0.4611}, "text": {"field": "label"}}
    },
    {
      "data": {"values": [{"label": "25 °C\u00a0 Activation"}]},
      "mark": {"type": "text", "align": "right", "baseline": "alphabetic", "fontSize": 19, "color": "black", "font": "DejaVu Sans"},
      "encoding": {"x": {"datum": 0.6981}, "y": {"datum": 0.4317}, "text": {"field": "label"}}
    },
    {
      "data": {"values": [{"label": "BBP Channelpedia ID 30524 rep 3"}]},
      "mark": {"type": "text", "angle": 270, "align": "center", "baseline": "middle", "fontSize": 14, "color": "black", "font": "DejaVu Sans"},
      "encoding": {"x": {"datum": 0.7132}, "y": {"datum": 0.1145}, "text": {"field": "label"}}
    }
  ]
}
